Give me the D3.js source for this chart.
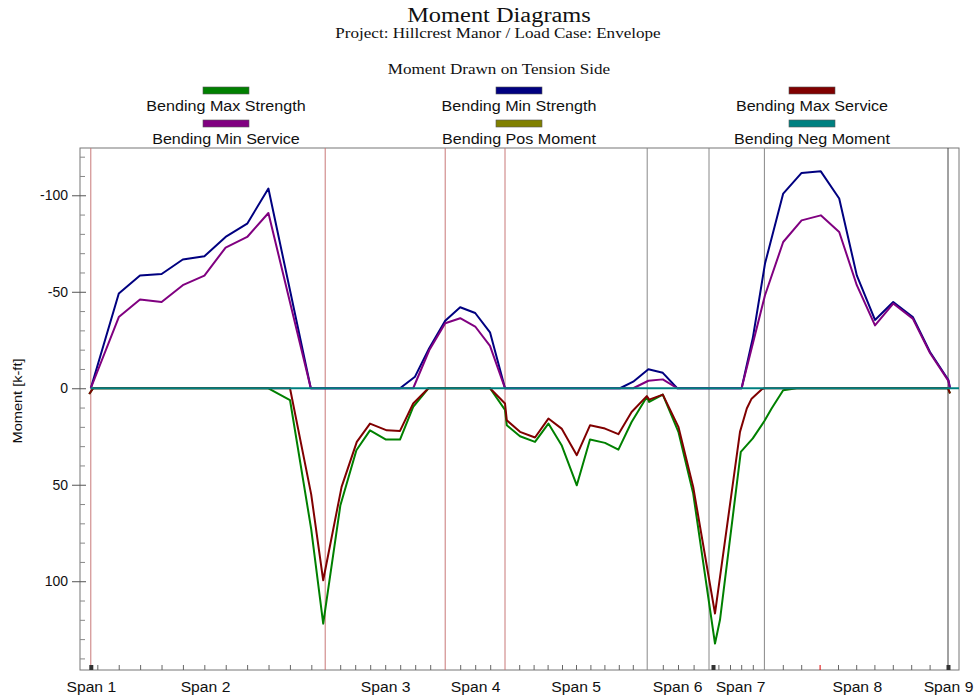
<!DOCTYPE html>
<html>
<head>
<meta charset="utf-8">
<script src="https://cdn.jsdelivr.net/npm/d3@7"></script>
<style>
  body { margin: 0; background: #fff; }
  svg text { font-family: "Liberation Sans", Arial, sans-serif; }
</style>
</head>
<body>
<div id="chart"></div>
<script>
// --- data (x in ft along the beam, moment in k-ft; negative drawn upward) ---
const seriesNames = ["Bending Max Strength", "Bending Min Strength", "Bending Max Service",
  "Bending Min Service", "Bending Pos Moment", "Bending Neg Moment"];
const seriesColors = ["#008000", "#000080", "#800000", "#800080", "#808000", "#008080"];

const maxStrength = [[2.3, 3], [3.3, 0], [47.1, 0], [52.5, 6.1], [57.8, 73], [60.8, 122], [65.1, 60.6],
  [69.1, 32.1], [72.5, 21.8], [76.5, 26.6], [80.0, 26.6], [83.3, 9.7], [87.1, 0], [102.5, 0],
  [106.25, 11.2], [106.7, 19.2], [110.0, 24.9], [113.75, 27.8], [117.1, 18.3], [120.4, 29.5],
  [124.2, 50.3], [127.5, 26.6], [131.25, 28.3], [134.6, 31.8], [137.9, 17.5], [141.7, 4.5],
  [142.3, 7.1], [145.7, 3.3], [149.6, 22.6], [153.3, 54.6], [158.75, 132.3], [160.0, 120],
  [165.2, 33], [168.2, 26], [171.1, 17], [172.9, 10.5], [175.8, 1], [179.2, 0], [217.0, 0], [217.5, 2.7]];
const minStrength = [[2.7, 0], [9.7, -49.1], [15.0, -58.4], [20.4, -59.2], [25.7, -66.7], [31.1, -68.4],
  [36.4, -78.4], [41.8, -85.3], [47.1, -103.5], [57.7, 0], [80.0, 0], [83.75, -6], [87.3, -20.7],
  [91.3, -35], [95.05, -42], [98.8, -39], [102.5, -29], [106.25, 0], [135.0, 0], [138.3, -3.4],
  [142.1, -9.8], [145.7, -8], [149.3, 0], [165.4, 0], [168.2, -26], [171.25, -64.6], [175.8, -100.9],
  [180.4, -111.6], [185.2, -112.4], [189.8, -98.3], [194.2, -58.5], [198.75, -35.4], [203.3, -44.7],
  [208.2, -36.9], [212.5, -18.8], [217.1, -4.3], [217.5, 0]];
const maxService = [[2.3, 3], [3.3, 0], [52.5, 0], [57.8, 55], [60.8, 99.5], [65.4, 51.1], [69.2, 27.8],
  [72.5, 18.3], [76.7, 21.8], [80.0, 22.1], [83.3, 7.9], [87.1, 0], [102.5, 0], [106.25, 7.9],
  [106.7, 16.6], [110.0, 22.6], [113.75, 25.5], [117.1, 15.7], [120.4, 20.9], [124.2, 34.7],
  [127.5, 19.2], [131.25, 20.9], [134.6, 23.8], [137.9, 12.3], [141.7, 4.1], [142.3, 5.9],
  [145.7, 3.3], [149.6, 20], [153.3, 51.1], [158.75, 116.7], [165.0, 22.6], [166.7, 10.5],
  [167.9, 5.4], [170.4, 0.6], [171.1, 0], [217.0, 0], [217.5, 2.7]];
const minService = [[2.7, 0], [9.7, -36.9], [15.0, -46], [20.4, -44.7], [25.7, -53.4], [31.1, -58.4],
  [36.4, -72.9], [41.8, -78.4], [47.1, -90.8], [57.7, 0], [83.3, 0], [87.3, -19.7], [91.3, -33.7],
  [95.05, -36.3], [98.8, -32], [102.5, -22], [106.25, 0], [138.3, 0], [142.1, -3.9], [145.7, -4.6],
  [149.3, 0], [165.4, 0], [171.25, -48.2], [175.8, -75.8], [180.4, -87], [185.2, -89.6],
  [189.8, -81], [194.2, -53.4], [198.75, -32.6], [203.3, -43.9], [208.2, -36.1], [212.5, -18.3],
  [217.1, -3.8], [217.5, 0]];
const negMoment = [[2.7, 0], [219.75, 0]];

const redSupports = [2.7, 61.3, 91.3, 106.25];
const graySupports = [141.8, 157.25, 171.1, 217.0];
const spanLabels = ["Span 1", "Span 2", "Span 3", "Span 4", "Span 5", "Span 6", "Span 7", "Span 8", "Span 9"];
const spanLabelX = [2.7, 31.25, 76.3, 98.8, 123.9, 149.3, 165.0, 194.2, 217.0];
const xTicks = [4.33, 9.68, 15.03, 20.38, 25.73, 31.08, 36.43, 41.78, 47.13, 52.48, 57.83,
  65.05, 68.8, 72.55, 76.3, 80.05, 83.8, 87.55, 95.05, 98.8, 102.55,
  109.8, 113.4, 116.9, 120.5, 124.0, 127.6, 131.1, 134.7, 138.2, 145.7, 149.5, 153.4,
  159.6, 162.5, 165.3, 168.2, 175.7, 180.3, 189.5, 194.05, 198.6, 203.2, 207.8, 212.4];
const redTick = [184.9];
const pointMarks = [2.7, 158.25, 217.0];
const yMajor = [-100, -50, 0, 50, 100];
const yMinor = [-120, -110, -90, -80, -70, -60, -40, -30, -20, -10, 10, 20, 30, 40, 60, 70, 80, 90, 110, 120, 130, 140];

// --- layout ---
const width = 978, height = 700;
const plot = { left: 80, right: 959, top: 148, bottom: 670 };
const serif = "'Liberation Serif', 'Times New Roman', serif";

// the original renderer draws its fonts a little wider than ours
function widen(sel, f) {
  sel.each(function() {
    const w = this.getComputedTextLength();
    d3.select(this).attr("textLength", w * f).attr("lengthAdjust", "spacingAndGlyphs");
  });
}

const svg = d3.select("#chart").append("svg")
  .attr("width", width)
  .attr("height", height);

const x = d3.scaleLinear().domain([0, 219.75]).range([plot.left, plot.right]);
const y = d3.scaleLinear().domain([-124.5, 146]).range([plot.top, plot.bottom]);

// titles
const titles = svg.append("g").style("font-family", serif).attr("text-anchor", "middle").attr("fill", "#111");
titles.append("text").attr("x", 499).attr("y", 22).style("font-family", serif)
  .attr("font-size", "20px").text("Moment Diagrams");
titles.append("text").attr("x", 498).attr("y", 38).style("font-family", serif)
  .attr("font-size", "14px").text("Project: Hillcrest Manor / Load Case: Envelope");
titles.append("text").attr("x", 499).attr("y", 74).style("font-family", serif)
  .attr("font-size", "14px").text("Moment Drawn on Tension Side");
widen(titles.selectAll("text"), 1.22);

// legend
const legendCols = [226, 519, 812];
const legend = svg.append("g");
seriesNames.forEach((name, i) => {
  const cx = legendCols[i % 3];
  const row = Math.floor(i / 3);
  legend.append("rect")
    .attr("x", cx - 23).attr("y", 87 + row * 33)
    .attr("width", 46).attr("height", 7)
    .attr("fill", seriesColors[i])
    .attr("stroke", "#555").attr("stroke-width", 0.6);
  legend.append("text")
    .attr("x", cx).attr("y", 111 + row * 33)
    .attr("text-anchor", "middle")
    .attr("font-size", "14px")
    .attr("fill", "#111")
    .text(name);
});
widen(legend.selectAll("text"), 1.15);

// frame
svg.append("rect")
  .attr("x", plot.left).attr("y", plot.top)
  .attr("width", plot.right - plot.left).attr("height", plot.bottom - plot.top)
  .attr("fill", "none").attr("stroke", "#777").attr("stroke-width", 1);

// support lines
svg.append("g").selectAll("line")
  .data(redSupports).join("line")
  .attr("x1", d => x(d)).attr("x2", d => x(d))
  .attr("y1", plot.top).attr("y2", plot.bottom)
  .attr("stroke", "#c87878").attr("stroke-width", 1);
svg.append("g").selectAll("line")
  .data(graySupports).join("line")
  .attr("x1", d => x(d)).attr("x2", d => x(d))
  .attr("y1", plot.top).attr("y2", plot.bottom)
  .attr("stroke", (d, i) => i === 3 ? "#444" : "#888").attr("stroke-width", 1);

// y axis: major ticks cross the axis, minor ones sit inside
const yAxis = svg.append("g").attr("transform", `translate(${plot.left},0)`);
yAxis.append("g")
  .call(d3.axisLeft(y).tickValues(yMajor).tickSize(8).tickPadding(4).tickFormat(d => d))
  .call(g => g.select(".domain").remove())
  .call(g => g.selectAll(".tick line").attr("x2", -8).attr("x1", 6).attr("stroke", "#555"))
  .call(g => g.selectAll(".tick text").attr("font-size", "14px").attr("fill", "#111")
    .style("font-family", "'Liberation Sans', Arial, sans-serif"));
yAxis.append("g")
  .call(d3.axisRight(y).tickValues(yMinor).tickSize(5).tickFormat(""))
  .call(g => g.select(".domain").remove())
  .call(g => g.selectAll(".tick line").attr("stroke", "#888"));

const yLabel = svg.append("text")
  .attr("transform", `translate(22,${(plot.top + plot.bottom) / 2 - 8}) rotate(-90)`)
  .attr("text-anchor", "middle")
  .attr("font-size", "13px")
  .attr("fill", "#111")
  .text("Moment [k-ft]");
widen(yLabel, 1.12);

// x axis
const xAxis = svg.append("g").attr("transform", `translate(0,${plot.bottom})`);
xAxis.append("g")
  .call(d3.axisTop(x).tickValues(xTicks).tickSize(5).tickFormat(""))
  .call(g => g.select(".domain").remove())
  .call(g => g.selectAll(".tick line").attr("stroke", "#666"));
xAxis.append("g")
  .call(d3.axisTop(x).tickValues(redTick).tickSize(5).tickFormat(""))
  .call(g => g.select(".domain").remove())
  .call(g => g.selectAll(".tick line").attr("stroke", "#d00"));
xAxis.selectAll(".pmark")
  .data(pointMarks).join("rect")
  .attr("class", "pmark")
  .attr("x", d => x(d) - 1.5).attr("y", -5)
  .attr("width", 4).attr("height", 5)
  .attr("fill", "#333");
xAxis.append("g")
  .call(d3.axisBottom(x).tickValues(spanLabelX).tickSize(0).tickPadding(12)
    .tickFormat((d, i) => spanLabels[i]))
  .call(g => g.select(".domain").remove())
  .call(g => g.selectAll(".tick text").attr("font-size", "14px").attr("fill", "#111")
    .style("font-family", "'Liberation Sans', Arial, sans-serif"))
  .call(g => widen(g.selectAll(".tick text"), 1.12));

// curves
const line = d3.line().x(d => x(d[0])).y(d => y(d[1]));
const curves = [maxStrength, minStrength, maxService, minService, null, negMoment];
curves.forEach((data, i) => {
  if (!data) return;
  svg.append("path")
    .datum(data)
    .attr("d", line)
    .attr("fill", "none")
    .attr("stroke", seriesColors[i])
    .attr("stroke-width", 2)
    .attr("stroke-linejoin", "round");
});
</script>
</body>
</html>
